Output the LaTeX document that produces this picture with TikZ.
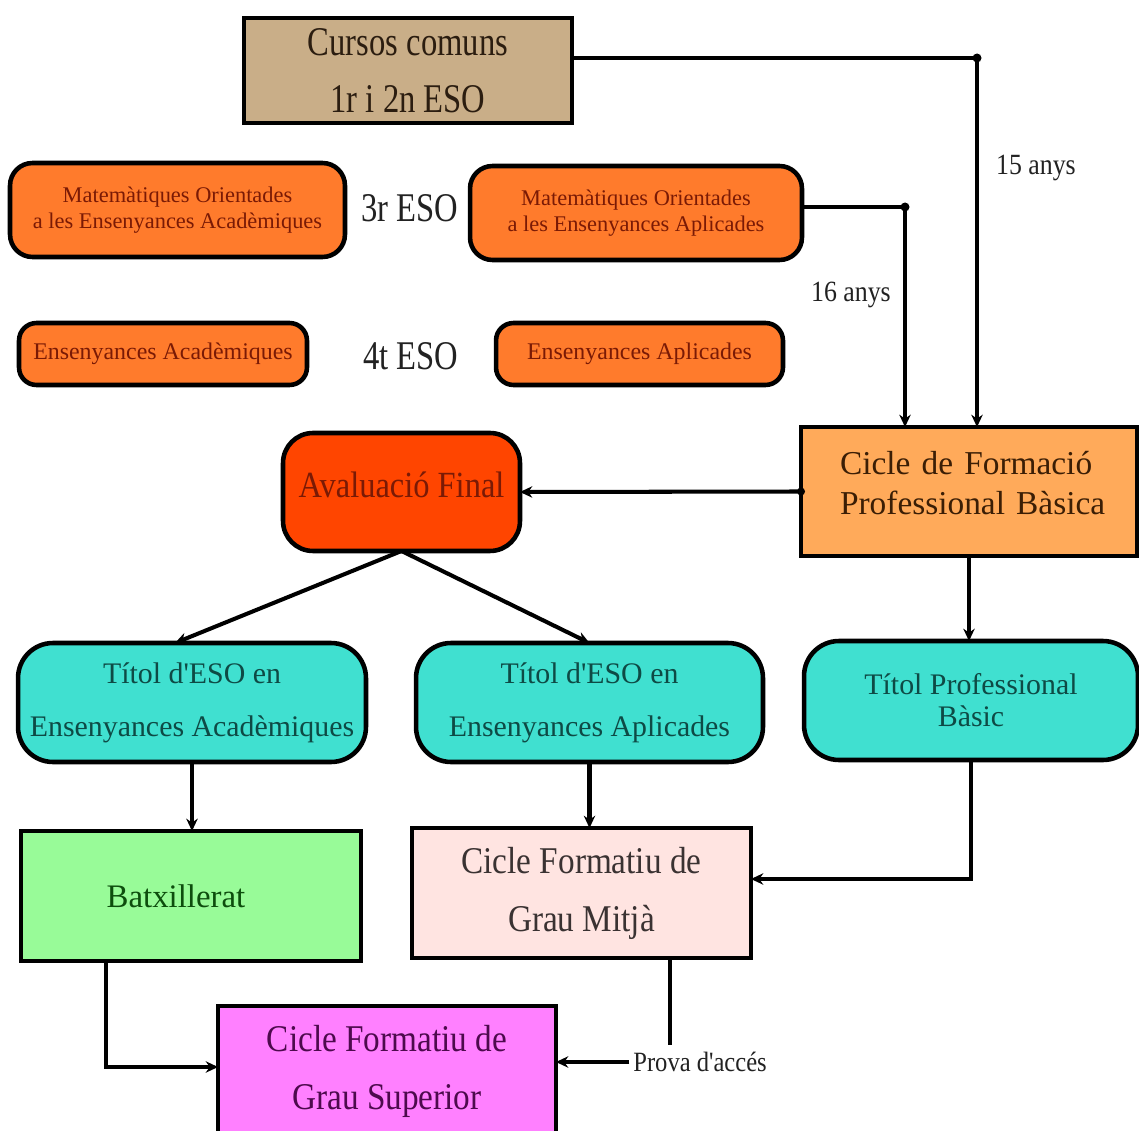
\documentclass[tikz,border=0pt]{standalone}
\usepackage{fontspec}
\setmainfont{Liberation Serif}
\newfontfamily\narrowA[FakeStretch=0.80]{Liberation Serif}
\newfontfamily\narrowB[FakeStretch=0.88]{Liberation Serif}
\usetikzlibrary{arrows.meta,calc}

\definecolor{tanfill}{HTML}{C9AE88}
\definecolor{orangefill}{HTML}{FF7B2C}
\definecolor{redfill}{HTML}{FF4500}
\definecolor{sandfill}{HTML}{FFAA5A}
\definecolor{cyanfill}{HTML}{40E0D0}
\definecolor{greenfill}{HTML}{98FB98}
\definecolor{rosefill}{HTML}{FFE4E1}
\definecolor{violetfill}{HTML}{FF80FF}
\definecolor{tantext}{HTML}{2B1D10}
\definecolor{orangetext}{HTML}{7A1A05}
\definecolor{fpbtext}{HTML}{3B1E05}
\definecolor{cyantext}{HTML}{0E4A45}
\definecolor{greentext}{HTML}{0D4D0D}
\definecolor{rosetext}{HTML}{3A3232}
\definecolor{violettext}{HTML}{4D0A4D}
\definecolor{labeltext}{HTML}{222222}

% extra depth below a text block, used to lift it inside its box
\newcommand{\liftby}[1]{\rule[-#1]{0pt}{#1}}

\tikzset{
  box/.style={draw=black, line width=2.6pt, inner sep=0pt, outer sep=0pt, align=center},
  orangebox/.style={box, fill=orangefill, text=orangetext, rounded corners=0.45cm},
  cyanbox/.style={box, fill=cyanfill, text=cyantext, rounded corners=0.7cm,
    minimum height=2.38cm, font=\fontsize{17}{30}\selectfont},
  conn/.style={line width=2.3pt},
  arr/.style={conn, -{Stealth[length=7pt,width=6.5pt]}},
  junction/.style={fill=black},
  lbl/.style={text=labeltext, inner sep=0pt},
}

\begin{document}
\begin{tikzpicture}[x=0.02cm, y=-0.02cm]
\useasboundingbox[fill=white] (0,0) rectangle (1139,1131);

% first and second year
\node[box, fill=tanfill, text=tantext, minimum width=6.56cm, minimum height=2.10cm,
  font=\narrowA\fontsize{23.2}{32.3}\selectfont] (cursos) at (408,70.5)
  {Cursos comuns\\1r i 2n ESO};

% third year
\node[orangebox, minimum width=6.70cm, minimum height=1.88cm,
  font=\fontsize{12.75}{14.7}\selectfont] (moa) at (177.5,210)
  {Matemàtiques Orientades\\a les Ensenyances Acadèmiques};
\node[lbl, font=\narrowA\fontsize{23.2}{28}\selectfont] (eso3) at (410,208) {3r ESO};
\node[orangebox, minimum width=6.64cm, minimum height=1.88cm,
  font=\fontsize{12.75}{14.7}\selectfont] (mop) at (636,213)
  {Matemàtiques Orientades\\a les Ensenyances Aplicades};

% fourth year
\node[orangebox, rounded corners=0.35cm, minimum width=5.76cm, minimum height=1.24cm,
  font=\fontsize{13.6}{16}\selectfont] (ea) at (163,354) {Ensenyances Acadèmiques};
\node[lbl, font=\narrowA\fontsize{23.2}{28}\selectfont] (eso4) at (411,356) {4t ESO};
\node[orangebox, rounded corners=0.35cm, minimum width=5.74cm, minimum height=1.24cm,
  font=\fontsize{13.6}{16}\selectfont] (ep) at (639.5,354) {Ensenyances Aplicades};

% final assessment and basic vocational cycle
\node[box, fill=redfill, text=orangetext, rounded corners=0.6cm,
  minimum width=4.74cm, minimum height=2.36cm,
  font=\narrowB\fontsize{21}{24}\selectfont] (aval) at (401.5,492)
  {Avaluació Final\liftby{0.3cm}};
\node[box, fill=sandfill, text=fpbtext, align=left,
  text width=6.72cm, minimum height=2.58cm,
  font=\fontsize{19}{22.7}\selectfont] (cfpb) at (969,491.5)
  {\hspace*{0.78cm}Cicle de Formació\\\hspace*{0.78cm}Professional Bàsica\liftby{0.36cm}};

% qualifications
\node[cyanbox, minimum width=6.96cm] (ta) at (192,702.5)
  {Títol d\textquotesingle ESO en\\Ensenyances Acadèmiques};
\node[cyanbox, minimum width=6.94cm] (tp) at (589.5,702.5)
  {Títol d\textquotesingle ESO en\\Ensenyances Aplicades};
\node[cyanbox, minimum width=6.68cm, font=\fontsize{17}{18.2}\selectfont] (tpb) at (971,700.5)
  {Títol Professional\\Bàsic};

% further studies
\node[box, fill=greenfill, text=greentext, minimum width=6.80cm, minimum height=2.60cm,
  font=\fontsize{18.7}{22}\selectfont] (batx) at (191,896) {Batxillerat\hspace*{0.6cm}};
\node[box, fill=rosefill, text=rosetext, minimum width=6.78cm, minimum height=2.60cm,
  font=\narrowB\fontsize{21.5}{33}\selectfont] (gm) at (581.5,893)
  {Cicle Formatiu de\\Grau Mitjà};
\node[box, fill=violetfill, text=violettext, minimum width=6.76cm, minimum height=2.60cm,
  font=\narrowB\fontsize{21.5}{33}\selectfont] (gs) at (387,1071)
  {Cicle Formatiu de\\Grau Superior};

% age labels and entrance exam
\node[lbl, font=\narrowB\fontsize{16.7}{20}\selectfont] (age15) at (1036,168) {15 anys};
\node[lbl, font=\narrowB\fontsize{16.7}{20}\selectfont] (age16) at (851,295) {16 anys};
\node[lbl, font=\narrowB\fontsize{15.9}{19}\selectfont, anchor=west] (prova) at (633,1062) {Prova d'accés};

% junction points
\coordinate (j15) at (977,58);
\coordinate (j16) at (905,207);
\coordinate (jtpb) at (975,879);
\coordinate (jbatx) at (106,1067);
\coordinate (jgm) at (670,1045);

% connectors
\draw[arr] (cursos.east |- j15) -- (j15) -- (j15 |- cfpb.north);
\fill[junction] (j15) circle (0.09cm);
\draw[arr] (mop.east |- j16) -- (j16) -- (j16 |- cfpb.north);
\fill[junction] (j16) circle (0.09cm);
\draw[arr] (cfpb.west) -- (aval.east);
\fill[junction] (cfpb.west) circle (0.08cm);
\draw[arr] (aval.south) -- ($(ta.north)+(-17,0)$);
\draw[arr] (aval.south) -- (tp.north);
\draw[arr] (cfpb.south) -- (cfpb.south |- tpb.north);
\draw[arr] (ta.south) -- (ta.south |- batx.north);
\draw[arr] (tp.south) -- (tp.south |- gm.north);
\draw[arr] (tpb.south) -- (tpb.south |- jtpb) -- (gm.east |- jtpb);
\draw[arr] (batx.south -| jbatx) -- (jbatx) -- (gs.west |- jbatx);
\draw[conn] (gm.south -| jgm) -- (jgm);
\draw[arr] ([xshift=-2pt]prova.west) -- (gs.east |- prova.west);
\end{tikzpicture}
\end{document}
